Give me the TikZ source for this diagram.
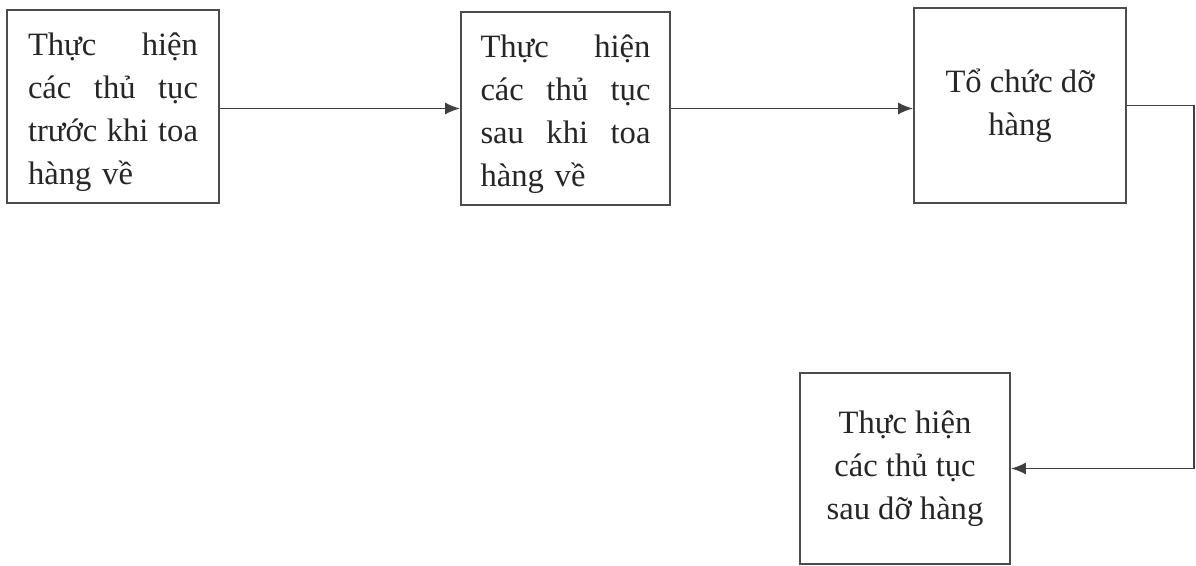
\documentclass[tikz,border=0pt]{standalone}
\usepackage{fontspec}
\setmainfont{Liberation Serif}
\usetikzlibrary{arrows.meta}

\begin{document}
\begin{tikzpicture}[x=0.5pt,y=-0.5pt,
        box/.style={draw=black!70,line width=0.9pt,inner sep=0pt,
            font=\fontsize{16.3}{21.5}\selectfont,text=black!85},
        flow/.style={-{Latex[length=7.5pt,width=6pt]},line width=0.9pt,draw=black!75}]
        \useasboundingbox (0,0) rectangle (1196,566);
        \node (truoc) [box,minimum width=106pt,minimum height=96.5pt,text width=85pt,text height=17.5pt,align=left] at (113,106.5)
            {Thực\hfill hiện\\ các\hfill thủ\hfill tục\\ trước\hfill khi\hfill toa\\ hàng về};
        \node (sau) [box,minimum width=104.5pt,minimum height=96.5pt,text width=85pt,text height=17.5pt,align=left] at (565.5,108.5)
            {Thực\hfill hiện\\ các\hfill thủ\hfill tục\\ sau\hfill khi\hfill toa\\ hàng về};
        \node (dohang) [box,minimum width=106pt,minimum height=97.5pt,align=center] at (1020,105.5)
            {Tổ chức dỡ\\ hàng};
        \node (saudo) [box,minimum width=105pt,minimum height=95.5pt,align=center] at (905,468.5)
            {Thực hiện\\ các thủ tục\\ sau dỡ hàng};
        \draw [flow] ([yshift=-1pt]truoc.east) -- ([yshift=-1pt]truoc.east -| sau.west);
        \draw [flow] (sau.east) -- (sau.east -| dohang.west);
        \draw [flow] (dohang.east) -- ++(67,0) |- (saudo.east);
    \end{tikzpicture}
\end{document}
